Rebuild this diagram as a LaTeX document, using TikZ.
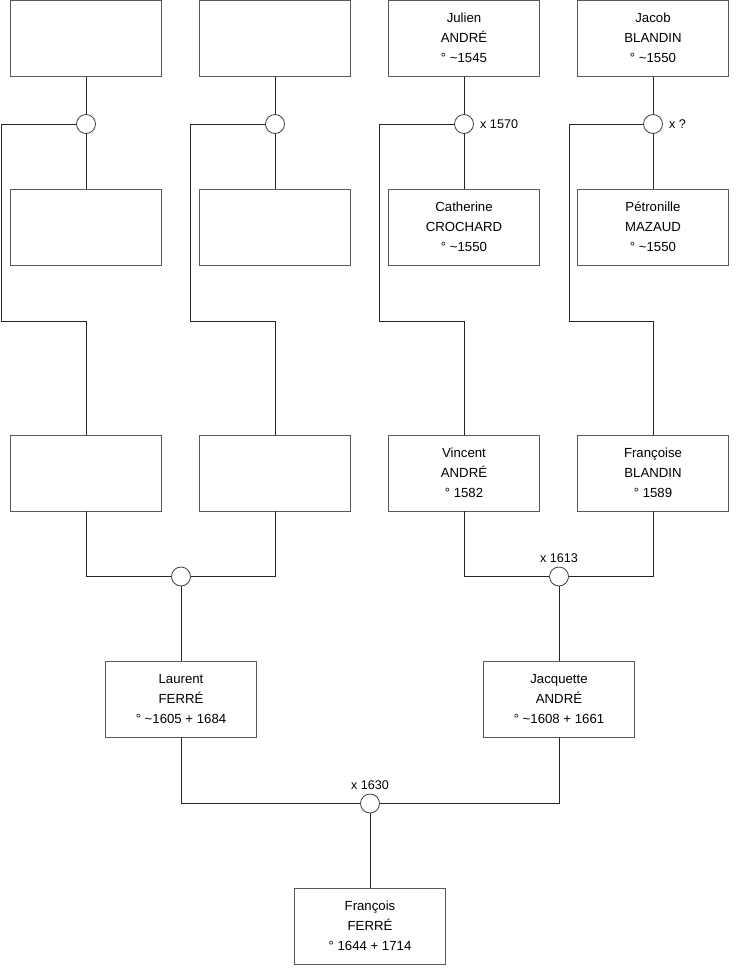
\documentclass[tikz,border=0pt]{standalone}
\usepackage{fontspec}
\setmainfont{Liberation Sans}
\newcommand\pinfo[3]{\raisebox{1.5pt}{\begin{tabular}{@{}c@{}}#1\\#2\\#3\end{tabular}}}
\tikzset{
  person/.style={draw=black!65, line width=0.8pt, fill=white, minimum width=151pt, minimum height=76pt, inner sep=0pt, align=center, font=\fontsize{13.2}{20}\selectfont},
  union/.style={circle, draw=black!75, fill=white, minimum size=19pt, inner sep=0pt, line width=0.8pt},
  link/.style={draw=black!85, line width=0.8pt},
  lbl/.style={font=\fontsize{12.6}{14}\selectfont, inner sep=0pt}
}
\begin{document}
\begin{tikzpicture}[x=1pt,y=-1pt]
\useasboundingbox (0,0) rectangle (740,975);
% generation 1
\node[person] (b1) at (86,38.5) {};
\node[person] (b2) at (275,38.5) {};
\node[person] (b3) at (464,38.5) {\pinfo{Julien}{ANDRÉ}{° \textasciitilde1545}};
\node[person] (b4) at (653,38.5) {\pinfo{Jacob}{BLANDIN}{° \textasciitilde1550}};
% spouses
\node[person] (p1) at (86,227.5) {};
\node[person] (p2) at (275,227.5) {};
\node[person] (p3) at (464,227.5) {\pinfo{Catherine}{CROCHARD}{° \textasciitilde1550}};
\node[person] (p4) at (653,227.5) {\pinfo{Pétronille}{MAZAUD}{° \textasciitilde1550}};
% generation 2
\node[person] (g1) at (86,473) {};
\node[person] (g2) at (275,473) {};
\node[person] (g3) at (464,473) {\pinfo{Vincent}{ANDRÉ}{° 1582}};
\node[person] (g4) at (653,473) {\pinfo{Françoise}{BLANDIN}{° 1589}};
% generation 3
\node[person] (l1) at (181,699.5) {\pinfo{Laurent}{FERRÉ}{° \textasciitilde1605 + 1684}};
\node[person] (l2) at (559,699.5) {\pinfo{Jacquette}{ANDRÉ}{° \textasciitilde1608 + 1661}};
% generation 4
\node[person] (f) at (370,926) {\pinfo{François}{FERRÉ}{° 1644 + 1714}};
% union circles
\node[union] (c1) at (86,124) {};
\node[union] (c2) at (275,124) {};
\node[union] (c3) at (464,124) {};
\node[union] (c4) at (653,124) {};
\node[union] (d1) at (181,576.5) {};
\node[union] (d2) at (559,576.5) {};
\node[union] (e) at (370,803.5) {};
% bend coordinates
\coordinate (k1) at (1.5,321.5);
\coordinate (k2) at (190.5,321.5);
\coordinate (k3) at (379.5,321.5);
\coordinate (k4) at (569,321.5);
% connectors
\foreach \i in {1,2,3,4}{
  \draw[link] (b\i) -- (c\i);
  \draw[link] (c\i) -- (p\i);
  \draw[link] (c\i.west) -| (k\i) -| (g\i.north);
}
\draw[link] (g1.south) |- (d1.west);
\draw[link] (g2.south) |- (d1.east);
\draw[link] (d1) -- (l1);
\draw[link] (g3.south) |- (d2.west);
\draw[link] (g4.south) |- (d2.east);
\draw[link] (d2) -- (l2);
\draw[link] (l1.south) |- (e.west);
\draw[link] (l2.south) |- (e.east);
\draw[link] (e) -- (f);
% marriage labels
\node[lbl, anchor=west] (m3) at (480,124) {x 1570};
\node[lbl, anchor=west] (m4) at (669,124) {x ?};
\node[lbl] (m5) at (559,558) {x 1613};
\node[lbl] (m6) at (370,785) {x 1630};
\end{tikzpicture}
\end{document}
